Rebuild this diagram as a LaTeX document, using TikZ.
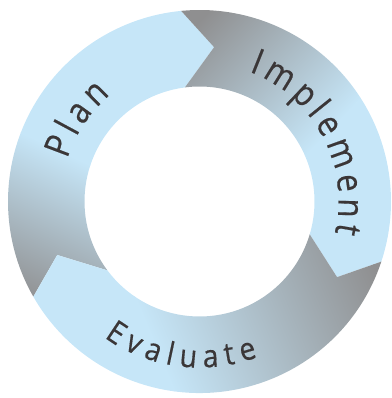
\documentclass[tikz,border=0pt]{standalone}
\usepackage{fontspec}
\newfontfamily\ringfontA[Scale=3.6,FakeStretch=0.87,FakeBold=0.4]{Open Sans}
\newfontfamily\ringfontB[Scale=3.15,FakeStretch=0.9,FakeBold=0.4]{Open Sans}
\usetikzlibrary{calc,decorations.text}
\definecolor{ringgray}{RGB}{143,143,144}
\definecolor{ringblue}{RGB}{198,230,248}
\definecolor{ringtext}{RGB}{58,54,55}
\newcommand\ringgrad[3]{%
  \begin{scope}[transform canvas={shift={#1},rotate=#2}]
    \fill[ringgray] (-600,-600) rectangle (0.5,600);
    \shade[left color=ringgray,right color=ringblue] (0,-600) rectangle (#3,600);
    \fill[ringblue] (#3-0.5,-600) rectangle (1000,600);
  \end{scope}}
\tikzset{
  ringlabel/.style={decorate,decoration={text along path,text align=center,
    text color=ringtext,text={|\ringfontA\kern5pt|#1}}},
  ringlabelin/.style={decorate,decoration={text along path,text align=center,
    text color=ringtext,text={|\ringfontB\kern7pt|#1}}}
}
\begin{document}
\begin{tikzpicture}[x=1pt,y=1pt]
\useasboundingbox (0,0) rectangle (391,398);
\coordinate (C) at (199.5,196.5);
% chevron boundaries
\coordinate (o1) at ($(C)+(95.5:191.5)$);
\coordinate (t1) at ($(C)+(84.6:155)$);
\coordinate (i1) at ($(C)+(97.3:115)$);
\coordinate (o2) at ($(C)+(-18.3:191.5)$);
\coordinate (t2) at ($(C)+(-28.8:157)$);
\coordinate (i2) at ($(C)+(-16.6:115)$);
\coordinate (o3) at ($(C)+(209.8:191.5)$);
\coordinate (t3) at ($(C)+(200.6:152)$);
\coordinate (i3) at ($(C)+(216.8:115)$);
% Plan
\begin{scope}
  \clip (o3) arc[start angle=209.8,end angle=95.5,radius=191.5] -- (t1) -- (i1)
        arc[start angle=97.3,end angle=216.8,radius=115] -- (t3) -- cycle;
  \ringgrad{(25,98)}{64.8}{150}
\end{scope}
% Implement
\begin{scope}
  \clip (o1) arc[start angle=95.5,end angle=-18.3,radius=191.5] -- (t2) -- (i2)
        arc[start angle=-16.6,end angle=97.3,radius=115] -- (t1) -- cycle;
  \ringgrad{(205,383)}{-43.9}{170}
\end{scope}
% Evaluate
\begin{scope}
  \clip (o2) arc[start angle=-18.3,end angle=-150.2,radius=191.5] -- (t3) -- (i3)
        arc[start angle=-143.2,end angle=-16.6,radius=115] -- (t2) -- cycle;
  \ringgrad{(380,118)}{-157.3}{233}
\end{scope}
% labels
\path[ringlabel=Plan] ($(C)+(197:139)$) arc[start angle=197,end angle=97,radius=139];
\path[ringlabel=Implement] ($(C)+(89:139)$) arc[start angle=89,end angle=-31,radius=139];
\path[ringlabelin=Evaluate] ($(C)+(211.5:166)$) arc[start angle=211.5,end angle=311.5,radius=166];
\end{tikzpicture}
\end{document}
